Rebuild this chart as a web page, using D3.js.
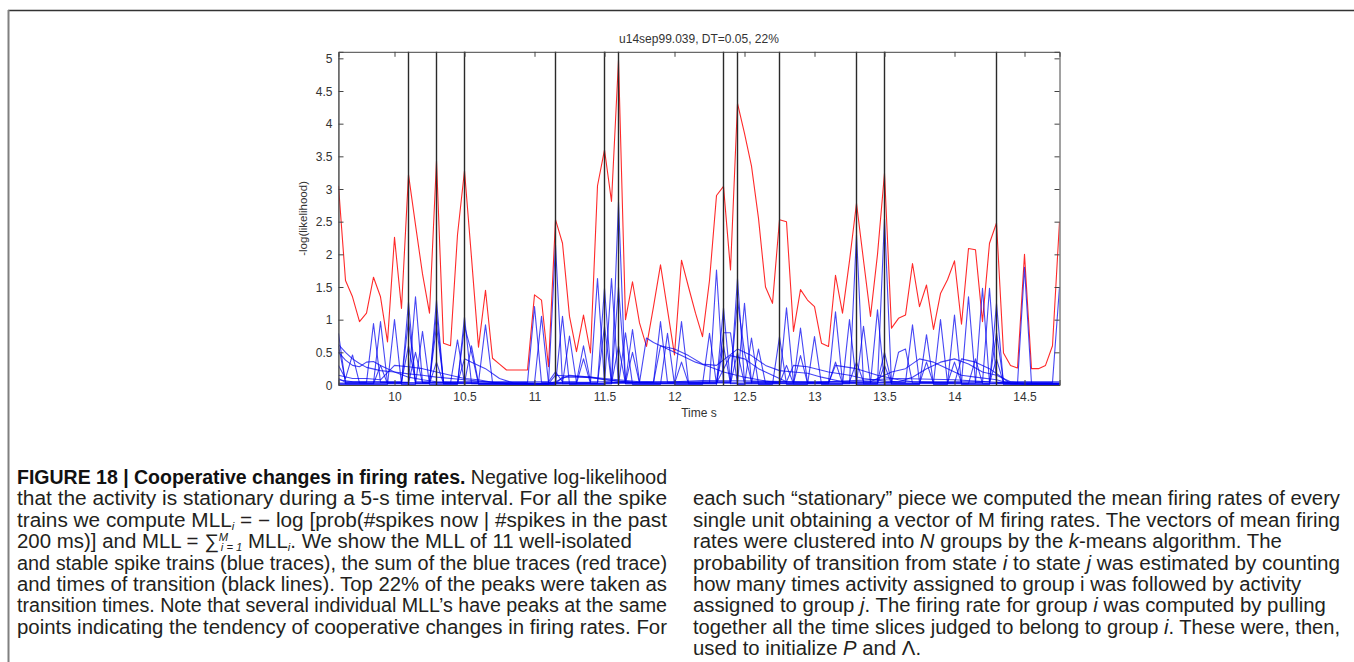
<!DOCTYPE html>
<html><head><meta charset="utf-8">
<script src="https://cdn.jsdelivr.net/npm/d3@7"></script>
<style>
html,body{margin:0;padding:0;background:#fff;}
svg{display:block;}
</style></head><body>
<svg id="fig" width="1354" height="662"></svg>
<script>
// ---------- DATA ----------
const chartTitle = "u14sep99.039, DT=0.05, 22%";
const xLabel = "Time s";
const yLabel = "-log(likelihood)";
const xTicks = [10, 10.5, 11, 11.5, 12, 12.5, 13, 13.5, 14, 14.5];
const yTicks = [0, 0.5, 1, 1.5, 2, 2.5, 3, 3.5, 4, 4.5, 5];
const xDomain = [9.6, 14.75];
const yDomain = [0, 5.1];
const transitionTimes = [9.6, 10.1, 10.3, 10.5, 11.15, 11.5, 11.6, 12.35, 12.45, 12.75, 13.3, 13.5, 14.3];

// sum of the blue traces (red)
const redSum = [
[9.6,3.05],[9.65,1.6],[9.7,1.35],[9.75,0.97],[9.8,1.1],[9.85,1.65],[9.9,1.35],[9.95,0.66],
[10.0,2.26],[10.05,1.17],[10.1,3.22],[10.15,2.45],[10.2,1.7],[10.25,1.1],[10.3,3.43],[10.35,0.64],
[10.4,0.6],[10.45,2.3],[10.5,3.28],[10.55,1.95],[10.6,0.58],[10.65,1.45],[10.7,0.41],[10.75,0.32],
[10.8,0.23],[10.85,0.23],[10.9,0.23],[10.95,0.23],[11.0,1.38],[11.05,1.3],[11.1,0.28],[11.15,2.53],
[11.2,2.17],[11.25,1.05],[11.3,0.51],[11.35,1.07],[11.4,0.49],[11.45,3.05],[11.5,3.6],[11.55,2.81],
[11.6,4.97],[11.65,1.0],[11.7,1.58],[11.75,0.95],[11.8,0.59],[11.85,1.2],[11.9,1.84],[11.95,1.15],
[12.0,0.46],[12.05,1.91],[12.1,1.5],[12.15,1.1],[12.2,0.74],[12.25,1.6],[12.3,2.9],[12.35,3.04],
[12.4,1.76],[12.45,4.31],[12.5,3.85],[12.55,3.35],[12.6,2.55],[12.65,1.5],[12.7,1.25],[12.75,2.53],
[12.8,2.5],[12.85,0.82],[12.9,1.46],[12.95,1.3],[13.0,1.2],[13.05,0.64],[13.1,0.59],[13.15,1.68],
[13.2,1.1],[13.25,1.9],[13.3,2.78],[13.35,1.91],[13.4,1.05],[13.45,2.0],[13.5,3.24],[13.55,0.87],
[13.6,1.02],[13.65,1.07],[13.7,1.86],[13.75,1.2],[13.8,1.53],[13.85,0.85],[13.9,1.4],[13.95,1.61],
[14.0,1.9],[14.05,0.93],[14.1,2.09],[14.15,2.07],[14.2,0.97],[14.25,2.17],[14.3,2.48],[14.35,0.49],
[14.4,0.3],[14.45,0.26],[14.5,2.0],[14.55,0.25],[14.6,0.25],[14.65,0.3],[14.7,0.6],[14.75,2.5]
];

// 11 individual units (blue)
const unit1 = [[9.6,0.79],[9.65,0.02],[10.05,0.02],[10.1,1.27],[10.15,0.02],[10.25,0.02],[10.3,1.3],[10.35,0.02],[10.45,0.02],[10.5,1.04],[10.55,0.02],[11.1,0.02],[11.15,2.15],[11.2,0.02],[11.55,0.02],[11.6,2.8],[11.65,0.02],[12.3,0.02],[12.35,1.18],[12.4,0.02],[13.25,0.02],[13.3,2.3],[13.35,0.02],[13.45,0.02],[13.5,2.55],[13.55,0.02],[14.45,0.02],[14.5,1.8],[14.55,0.02],[14.75,0.02]];
const unit2 = [[9.6,0.1],[9.65,0.04],[9.8,0.04],[9.85,0.94],[9.9,0.04],[10.1,0.04],[10.15,1.35],[10.2,0.04],[10.6,0.04],[10.65,0.92],[10.7,0.04],[10.95,0.04],[11.0,1.2],[11.05,0.04],[11.4,0.04],[11.45,1.63],[11.5,0.04],[11.85,0.04],[11.9,0.97],[11.95,0.04],[12.4,0.04],[12.45,1.63],[12.5,0.04],[12.75,0.04],[12.8,1.18],[12.85,0.04],[13.1,0.04],[13.15,1.12],[13.2,0.04],[13.65,0.04],[13.7,0.92],[13.75,0.04],[14.05,0.04],[14.1,1.35],[14.15,0.04],[14.2,0.04],[14.25,1.48],[14.3,0.04],[14.7,0.04],[14.75,1.5]];
const unit3 = [[9.6,0.3],[9.65,0.1],[9.7,0.46],[9.75,0.03],[9.85,0.03],[9.9,0.97],[9.95,0.03],[10.05,0.03],[10.1,1.0],[10.15,0.03],[10.25,0.03],[10.3,1.1],[10.35,0.03],[10.4,0.03],[10.45,0.69],[10.5,0.03],[11.0,0.03],[11.05,1.05],[11.1,0.03],[11.45,0.03],[11.5,1.48],[11.55,0.03],[12.0,0.03],[12.05,0.97],[12.1,0.03],[12.25,0.03],[12.3,1.76],[12.35,0.03],[12.45,0.03],[12.5,1.25],[12.55,0.03],[12.85,0.03],[12.9,0.87],[12.95,0.03],[13.4,0.03],[13.45,1.15],[13.5,0.03],[13.85,0.03],[13.9,1.0],[13.95,0.03],[14.15,0.03],[14.2,1.48],[14.25,0.03],[14.75,0.03]];
const unit4 = [[9.6,0.01],[9.95,0.01],[10.0,1.0],[10.05,0.01],[10.15,0.01],[10.2,0.82],[10.25,0.01],[10.45,0.01],[10.5,0.9],[10.55,0.5],[10.6,0.01],[11.15,0.01],[11.2,1.05],[11.25,0.01],[11.5,0.01],[11.55,1.63],[11.6,0.01],[11.65,0.8],[11.7,0.01],[11.9,0.01],[11.95,0.79],[12.0,0.01],[12.2,0.01],[12.25,0.79],[12.3,0.01],[12.35,0.8],[12.4,0.8],[12.45,0.01],[12.5,0.01],[12.55,0.72],[12.6,0.01],[12.7,0.01],[12.75,0.74],[12.8,0.01],[12.95,0.01],[13.0,0.74],[13.05,0.01],[13.2,0.01],[13.25,1.0],[13.3,0.01],[13.75,0.01],[13.8,0.77],[13.85,0.01],[13.95,0.01],[14.0,1.07],[14.05,0.01],[14.25,0.01],[14.3,1.25],[14.35,0.01],[14.75,0.01]];
const unit5 = [[9.6,0.6],[9.65,0.05],[10.05,0.05],[10.1,0.6],[10.15,0.05],[10.25,0.05],[10.3,0.9],[10.35,0.05],[11.1,0.05],[11.15,0.2],[11.2,0.05],[11.3,0.05],[11.35,0.6],[11.4,0.05],[11.55,0.05],[11.6,1.5],[11.65,0.05],[11.7,0.85],[11.75,0.05],[12.4,0.05],[12.45,1.3],[12.5,0.5],[12.55,0.05],[13.25,0.05],[13.3,0.35],[13.35,0.05],[13.45,0.05],[13.5,0.5],[13.55,0.05],[14.25,0.05],[14.3,0.8],[14.35,0.05],[14.75,0.05]];
const unit6 = [[9.6,0.03],[10.1,0.03],[10.15,0.5],[10.2,0.03],[10.5,0.03],[10.55,0.6],[10.6,0.03],[11.2,0.03],[11.25,0.75],[11.3,0.03],[11.45,0.03],[11.5,0.9],[11.55,0.03],[11.65,0.03],[11.7,0.5],[11.75,0.03],[12.55,0.03],[12.6,0.55],[12.65,0.03],[12.85,0.03],[12.9,0.45],[12.95,0.03],[13.3,0.03],[13.35,0.9],[13.4,0.03],[13.55,0.03],[13.6,0.5],[13.65,0.55],[13.7,0.03],[13.95,0.03],[14.0,0.35],[14.05,0.03],[14.25,0.03],[14.3,0.4],[14.35,0.03],[14.75,0.03]];
const unit7 = [[9.6,0.02],[9.85,0.02],[9.9,0.3],[9.95,0.02],[10.25,0.02],[10.3,0.35],[10.35,0.02],[11.3,0.02],[11.35,0.4],[11.4,0.02],[11.55,0.02],[11.6,0.6],[11.65,0.02],[12.0,0.02],[12.05,0.35],[12.1,0.02],[12.3,0.02],[12.35,0.6],[12.4,0.02],[12.45,0.5],[12.5,0.02],[12.75,0.02],[12.8,0.3],[12.85,0.02],[13.1,0.02],[13.15,0.35],[13.2,0.02],[13.45,0.02],[13.5,0.3],[13.55,0.02],[13.75,0.02],[13.8,0.35],[13.85,0.02],[14.1,0.02],[14.15,0.4],[14.2,0.02],[14.75,0.02]];
const unit8 = [[9.6,0.62],[9.65,0.5],[9.7,0.4],[9.75,0.33],[9.8,0.27],[9.9,0.22],[10.0,0.2],[10.1,0.17],[10.2,0.15],[10.3,0.12],[10.5,0.08],[10.7,0.04],[10.8,0.02],[11.1,0.02],[11.15,0.15],[11.3,0.13],[11.45,0.1],[11.6,0.06],[11.75,0.04],[11.8,0.72],[11.85,0.65],[11.95,0.55],[12.05,0.45],[12.15,0.35],[12.25,0.28],[12.35,0.2],[12.5,0.12],[12.65,0.06],[12.75,0.03],[13.1,0.03],[13.15,0.3],[13.3,0.25],[13.45,0.15],[13.6,0.08],[13.7,0.05],[14.0,0.03],[14.05,0.4],[14.15,0.35],[14.25,0.25],[14.35,0.1],[14.4,0.02],[14.75,0.02]];
const unit9 = [[9.6,0.5],[9.65,0.38],[9.7,0.3],[9.75,0.28],[9.8,0.35],[9.85,0.36],[9.9,0.3],[10.0,0.2],[10.1,0.12],[10.2,0.08],[10.3,0.05],[10.45,0.03],[10.5,0.4],[10.55,0.35],[10.65,0.25],[10.75,0.1],[10.85,0.03],[11.15,0.02],[11.2,0.12],[11.4,0.12],[11.5,0.1],[11.6,0.08],[11.75,0.05],[11.85,0.04],[11.9,0.6],[12.0,0.55],[12.1,0.45],[12.2,0.32],[12.3,0.3],[12.45,0.55],[12.55,0.45],[12.65,0.3],[12.75,0.22],[12.85,0.2],[12.95,0.18],[13.05,0.12],[13.2,0.05],[13.4,0.05],[13.55,0.2],[13.65,0.25],[13.75,0.4],[13.85,0.35],[13.95,0.25],[14.05,0.15],[14.15,0.12],[14.3,0.08],[14.4,0.02],[14.75,0.02]];
const unit10 = [[9.6,0.15],[9.7,0.1],[9.8,0.1],[9.9,0.08],[10.0,0.3],[10.1,0.28],[10.2,0.25],[10.3,0.2],[10.4,0.15],[10.5,0.1],[10.6,0.08],[10.7,0.04],[10.8,0.02],[11.1,0.02],[11.15,0.05],[11.25,0.15],[11.4,0.12],[11.5,0.08],[11.6,0.06],[11.7,0.04],[11.9,0.03],[12.3,0.03],[12.4,0.45],[12.5,0.4],[12.6,0.25],[12.7,0.15],[12.8,0.05],[12.85,0.3],[12.95,0.28],[13.1,0.2],[13.25,0.15],[13.35,0.1],[13.5,0.06],[13.6,0.05],[13.7,0.12],[13.8,0.25],[13.9,0.35],[14.0,0.4],[14.1,0.32],[14.2,0.2],[14.3,0.15],[14.4,0.05],[14.5,0.02],[14.75,0.02]];
const unit11 = [[9.6,0.08],[9.7,0.05],[10.0,0.04],[11.0,0.01],[12.0,0.05],[12.2,0.07],[12.6,0.06],[13.0,0.04],[13.6,0.1],[14.0,0.08],[14.3,0.04],[14.5,0.01],[14.75,0.01]];
const blueUnits = [unit1, unit2, unit3, unit4, unit5, unit6, unit7, unit8, unit9, unit10, unit11];

// caption
const captionLeft = [
  {full:true, parts:[{t:"FIGURE 18 | Cooperative changes in firing rates.", b:true},{t:" Negative log-likelihood"}]},
  {full:true, parts:[{t:"that the activity is stationary during a 5-s time interval. For all the spike"}]},
  {full:true, parts:[{t:"trains we compute MLL"},{t:"i", sub:true, i:true},{t:" = − log [prob(#spikes now | #spikes in the past"}]},
  {full:false, parts:[{t:"200 ms)] and MLL = ∑"},{t:"M", sup:true, i:true},{t:"i = 1", sub:true, back:true, i:true},{t:" MLL"},{t:"i", sub:true, i:true},{t:". We show the MLL of 11 well-isolated"}]},
  {full:true, parts:[{t:"and stable spike trains (blue traces), the sum of the blue traces (red trace)"}]},
  {full:true, parts:[{t:"and times of transition (black lines). Top 22% of the peaks were taken as"}]},
  {full:true, parts:[{t:"transition times. Note that several individual MLL’s have peaks at the same"}]},
  {full:true, parts:[{t:"points indicating the tendency of cooperative changes in firing rates. For"}]}
];
const captionRight = [
  {full:true, parts:[{t:"each such “stationary” piece we computed the mean firing rates of every"}]},
  {full:true, parts:[{t:"single unit obtaining a vector of M firing rates. The vectors of mean firing"}]},
  {full:false, parts:[{t:"rates were clustered into "},{t:"N",i:true},{t:" groups by the "},{t:"k",i:true},{t:"-means algorithm. The"}]},
  {full:true, parts:[{t:"probability of transition from state "},{t:"i",i:true},{t:" to state "},{t:"j",i:true},{t:" was estimated by counting"}]},
  {full:false, parts:[{t:"how many times activity assigned to group i was followed by activity"}]},
  {full:false, parts:[{t:"assigned to group "},{t:"j",i:true},{t:". The firing rate for group "},{t:"i",i:true},{t:" was computed by pulling"}]},
  {full:true, parts:[{t:"together all the time slices judged to belong to group "},{t:"i",i:true},{t:". These were, then,"}]},
  {full:false, parts:[{t:"used to initialize "},{t:"P",i:true},{t:" and Λ."}]}
];

// ---------- DRAW ----------
const svg = d3.select("#fig");
const W = 1354, H = 662;
const plot = {l: 338.5, r: 1059.5, t: 51.8, b: 385};
const x = d3.scaleLinear().domain(xDomain).range([plot.l, plot.r]);
const y = d3.scaleLinear().domain(yDomain).range([plot.b, plot.t]);
const axFont = "'Liberation Sans', Arial, Helvetica, sans-serif";

// page frame
svg.append("line").attr("x1", 8).attr("x2", W).attr("y1", 10.5).attr("y2", 10.5)
  .attr("stroke", "#333").attr("stroke-width", 1.6);
svg.append("line").attr("x1", 8.5).attr("x2", 8.5).attr("y1", 10).attr("y2", H)
  .attr("stroke", "#808080").attr("stroke-width", 2);

svg.append("defs").append("clipPath").attr("id", "clip").append("rect")
  .attr("x", plot.l).attr("y", plot.t - 1).attr("width", plot.r - plot.l).attr("height", plot.b - plot.t + 2);

const g = svg.append("g").attr("clip-path", "url(#clip)");
const line = d3.line().x(d => x(d[0])).y(d => y(d[1]));

g.append("path").datum(redSum).attr("d", line).attr("fill", "none")
  .attr("stroke", "#ff2a2a").attr("stroke-width", 1.1).attr("stroke-linejoin", "round");

g.selectAll("path.blue").data(blueUnits).join("path").attr("class", "blue")
  .attr("d", line).attr("fill", "none").attr("stroke", "#0000f0")
  .attr("stroke-opacity", 0.72).attr("stroke-width", 1.1).attr("stroke-linejoin", "round");

g.selectAll("line.tr").data(transitionTimes).join("line").attr("class", "tr")
  .attr("x1", d => x(d)).attr("x2", d => x(d)).attr("y1", plot.t).attr("y2", plot.b)
  .attr("stroke", "#2a2a2a").attr("stroke-width", 1.4);

// axes (MATLAB style: ticks inward on all sides)
const axColor = "#444";
const axB = svg.append("g").attr("transform", `translate(0,${plot.b})`)
  .call(d3.axisBottom(x).tickValues(xTicks).tickSize(-5).tickPadding(7).tickFormat(d3.format("")));
const axT = svg.append("g").attr("transform", `translate(0,${plot.t})`)
  .call(d3.axisTop(x).tickValues(xTicks).tickSize(-5).tickFormat(""));
const axL = svg.append("g").attr("transform", `translate(${plot.l},0)`)
  .call(d3.axisLeft(y).tickValues(yTicks).tickSize(-5).tickPadding(6).tickFormat(d3.format("")));
const axR = svg.append("g").attr("transform", `translate(${plot.r},0)`)
  .call(d3.axisRight(y).tickValues(yTicks).tickSize(-5).tickFormat(""));
[axB, axT, axL, axR].forEach(a => {
  a.selectAll("path.domain").attr("stroke", axColor).attr("stroke-width", 1);
  a.selectAll(".tick line").attr("stroke", axColor);
  a.selectAll("text").attr("font-family", axFont).attr("font-size", 12).attr("fill", "#333");
});
axL.selectAll("text").attr("dy", "0.36em");

svg.append("text").attr("x", (plot.l + plot.r) / 2).attr("y", 43).attr("text-anchor", "middle")
  .attr("font-family", axFont).attr("font-size", 12).attr("fill", "#333").text(chartTitle);
svg.append("text").attr("x", (plot.l + plot.r) / 2).attr("y", 417).attr("text-anchor", "middle")
  .attr("font-family", axFont).attr("font-size", 12).attr("fill", "#333").text(xLabel);
svg.append("text").attr("transform", `translate(307,${(plot.t + plot.b) / 2}) rotate(-90)`)
  .attr("text-anchor", "middle").attr("font-family", axFont).attr("font-size", 11.5)
  .attr("fill", "#333").text(yLabel);

// caption: condensed look by compressing glyphs to the column width
const capFont = "'Liberation Sans', Arial, Helvetica, sans-serif";
const capSize = 19.5;
const lineH = 21.4;
function drawColumn(lines, x0, y0, width) {
  const items = [];
  lines.forEach((ln, k) => {
    const tx = svg.append("text").attr("x", x0).attr("y", y0 + k * lineH)
      .attr("font-family", capFont).attr("font-size", capSize).attr("fill", "#231f20");
    let shift = 0;
    ln.parts.forEach(p => {
      const ts = tx.append("tspan").text(p.t);
      if (p.b) ts.attr("font-weight", "bold").attr("fill", "#111");
      if (p.i) ts.attr("font-style", "italic");
      let target = 0;
      if (p.sub) { ts.attr("font-size", capSize * 0.55); target = 3; }
      if (p.sup) { ts.attr("font-size", capSize * 0.55); target = -7.5; }
      if (p.back) ts.attr("dx", -7);
      if (target !== shift) { ts.attr("dy", target - shift); shift = target; }
    });
    items.push({node: tx.node(), full: ln.full, natural: tx.node().getComputedTextLength()});
  });
  const ratio = d3.mean(items.filter(d => d.full), d => width / d.natural);
  items.forEach(d => {
    const target = d.full ? width : d.natural * ratio;
    d.node.setAttribute("textLength", target);
    d.node.setAttribute("lengthAdjust", "spacingAndGlyphs");
  });
}
drawColumn(captionLeft, 17, 484, 650);
drawColumn(captionRight, 693, 484 + lineH, 647);
</script>
</body></html>
